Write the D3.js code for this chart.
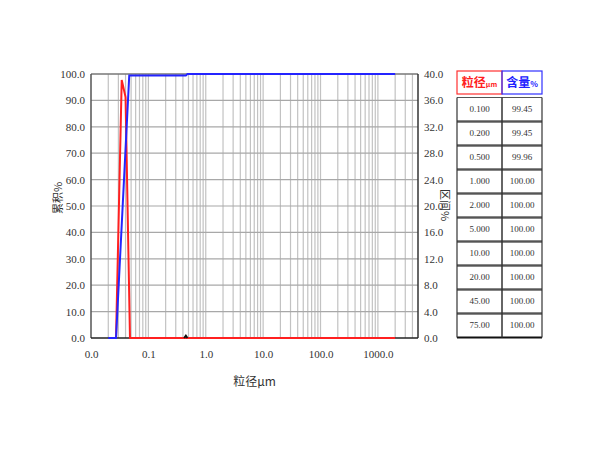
<!DOCTYPE html>
<html><head><meta charset="utf-8">
<script src="https://cdn.jsdelivr.net/npm/d3@7/dist/d3.min.js"></script>
<style>body{margin:0;background:#fff}svg{display:block}</style>
</head><body><svg id="c" width="600" height="450"></svg>
<script>
// ---- data ----
const xTickValues = [0.01, 0.1, 1, 10, 100, 1000];
const xTickLabels = ["0.0", "0.1", "1.0", "10.0", "100.0", "1000.0"];
const leftTicks = [0, 10, 20, 30, 40, 50, 60, 70, 80, 90, 100];
const rightTicks = [0, 4, 8, 12, 16, 20, 24, 28, 32, 36, 40];
const cumSizes = [0.02, 0.0273, 0.0464, 0.45, 0.48, 1.0, 2000];
const cumValues = [0, 0, 99.45, 99.45, 99.96, 100, 100];
const intSizes = [0.0273, 0.0343, 0.040, 0.0478, 2000];
const intValues = [0, 39.1, 36.5, 0, 0];
const bumpSizes = [0.42, 0.45, 0.48];
const bumpValues = [0, 0.35, 0];
const tableSizes = ["0.100", "0.200", "0.500", "1.000", "2.000", "5.000", "10.00", "20.00", "45.00", "75.00"];
const tableContents = ["99.45", "99.45", "99.96", "100.00", "100.00", "100.00", "100.00", "100.00", "100.00", "100.00"];

const svg = d3.select("#c");
const L = 91, R = 418, T = 74, B = 338;
const x = d3.scaleLog().domain([0.01, 5000]).range([L, R]);
const yL = d3.scaleLinear().domain([0, 100]).range([B, T]);
const yR = d3.scaleLinear().domain([0, 40]).range([B, T]);
const numFont = "'Liberation Serif', 'DejaVu Serif', serif";
const cjkFont = "'Noto Sans CJK SC', sans-serif";

// vertical minor grid
const vgrid = [];
for (let e = -2; e <= 3; e++) for (let m = 1; m <= 9; m++) {
  const v = m * Math.pow(10, e);
  if (v > 0.01 && v < 5000) vgrid.push(v);
}
svg.append("g").selectAll("line").data(vgrid).join("line")
  .attr("x1", d => x(d)).attr("x2", d => x(d)).attr("y1", T).attr("y2", B)
  .attr("stroke", "#c2c2c2").attr("stroke-width", 1.2);
// horizontal grid
svg.append("g").selectAll("line").data(leftTicks.slice(1, -1)).join("line")
  .attr("x1", L).attr("x2", R).attr("y1", d => yL(d)).attr("y2", d => yL(d))
  .attr("stroke", "#a8a8a8").attr("stroke-width", 1.2);

// frame
svg.append("line").attr("x1", L).attr("x2", R).attr("y1", T).attr("y2", T).attr("stroke", "#777").attr("stroke-width", 1.5);
svg.append("line").attr("x1", L).attr("x2", L).attr("y1", T).attr("y2", B).attr("stroke", "#555").attr("stroke-width", 1.5);
svg.append("line").attr("x1", R).attr("x2", R).attr("y1", T).attr("y2", B).attr("stroke", "#333").attr("stroke-width", 1.5);
svg.append("line").attr("x1", L).attr("x2", R).attr("y1", B).attr("y2", B).attr("stroke", "#222").attr("stroke-width", 1.5);

// axes (labels only)
const axB = svg.append("g").attr("transform", `translate(0,${B})`)
  .call(d3.axisBottom(x).tickValues(xTickValues).tickSize(0).tickPadding(12)
    .tickFormat((d, i) => xTickLabels[i]));
const axL = svg.append("g").attr("transform", `translate(${L},0)`)
  .call(d3.axisLeft(yL).tickValues(leftTicks).tickSize(0).tickPadding(6).tickFormat(d3.format(".1f")));
const axR = svg.append("g").attr("transform", `translate(${R},0)`)
  .call(d3.axisRight(yR).tickValues(rightTicks).tickSize(0).tickPadding(6).tickFormat(d3.format(".1f")));
[axB, axL, axR].forEach(a => {
  a.select(".domain").remove();
  a.selectAll("text").attr("font-family", numFont).attr("font-size", 11).attr("fill", "#333");
});

// axis titles
svg.append("text").attr("x", (L + R) / 2).attr("y", 386).attr("text-anchor", "middle")
  .attr("font-family", cjkFont).attr("font-size", 12).attr("fill", "#333").text("粒径μm");
svg.append("text").attr("transform", "translate(57,198) rotate(-90)").attr("text-anchor", "middle")
  .attr("dominant-baseline", "central").attr("font-family", cjkFont).attr("font-size", 11).attr("fill", "#333").text("累积%");
svg.append("text").attr("transform", "translate(446,205) rotate(90)").attr("text-anchor", "middle")
  .attr("dominant-baseline", "central").attr("font-family", cjkFont).attr("font-size", 11).attr("fill", "#333").text("区间%");

// curves
const lineR = d3.line().x(d => x(d[0])).y(d => yR(d[1]));
const lineL = d3.line().x(d => x(d[0])).y(d => yL(d[1]));
svg.append("path").attr("d", lineR(d3.zip(intSizes, intValues)))
  .attr("fill", "none").attr("stroke", "#ff2020").attr("stroke-width", 2);
svg.append("path").attr("d", lineR(d3.zip(bumpSizes, bumpValues)))
  .attr("fill", "none").attr("stroke", "#111").attr("stroke-width", 2);
svg.append("path").attr("d", lineL(d3.zip(cumSizes, cumValues)))
  .attr("fill", "none").attr("stroke", "#2424ff").attr("stroke-width", 2);

// table
const tx0 = 457, tx1 = 502, tx2 = 542;
const hy0 = 71, hy1 = 94;
svg.append("rect").attr("x", tx0).attr("y", hy0).attr("width", tx1 - tx0).attr("height", hy1 - hy0)
  .attr("fill", "none").attr("stroke", "#ff3030").attr("stroke-width", 1.2);
svg.append("rect").attr("x", tx1).attr("y", hy0).attr("width", tx2 - tx1).attr("height", hy1 - hy0)
  .attr("fill", "none").attr("stroke", "#3030ff").attr("stroke-width", 1.2);
const h1 = svg.append("text").attr("x", (tx0 + tx1) / 2).attr("y", 87).attr("text-anchor", "middle")
  .attr("font-family", cjkFont).attr("font-weight", "bold").attr("fill", "#ff2020");
h1.append("tspan").attr("font-size", 12).text("粒径");
h1.append("tspan").attr("font-size", 7).text("μm");
const h2 = svg.append("text").attr("x", (tx1 + tx2) / 2).attr("y", 87).attr("text-anchor", "middle")
  .attr("font-family", cjkFont).attr("font-weight", "bold").attr("fill", "#2020ff");
h2.append("tspan").attr("font-size", 12).text("含量");
h2.append("tspan").attr("font-size", 8).text("%");

const ry0 = 97.5, rh = 24;
const rows = svg.append("g").selectAll("g").data(tableSizes).join("g")
  .attr("transform", (d, i) => `translate(0,${ry0 + i * rh})`);
rows.append("line").attr("x1", tx0).attr("x2", tx2).attr("y1", 0).attr("y2", 0).attr("stroke", "#555").attr("stroke-width", 1);
rows.append("line").attr("x1", tx0).attr("x2", tx2).attr("y1", rh).attr("y2", rh).attr("stroke", "#111").attr("stroke-width", 2);
rows.append("text").attr("x", (tx0 + tx1) / 2).attr("y", rh / 2 - 1).attr("text-anchor", "middle")
  .attr("dominant-baseline", "central").attr("font-family", numFont).attr("font-size", 9).attr("fill", "#333").text(d => d);
rows.append("text").attr("x", (tx1 + tx2) / 2).attr("y", rh / 2 - 1).attr("text-anchor", "middle")
  .attr("dominant-baseline", "central").attr("font-family", numFont).attr("font-size", 9).attr("fill", "#333")
  .text((d, i) => tableContents[i]);
const tb = ry0 + tableSizes.length * rh;
[tx0, tx1, tx2].forEach(xx => svg.append("line").attr("x1", xx).attr("x2", xx).attr("y1", ry0).attr("y2", tb)
  .attr("stroke", "#333").attr("stroke-width", xx === tx1 ? 1.5 : 1.2));
</script></body></html>
